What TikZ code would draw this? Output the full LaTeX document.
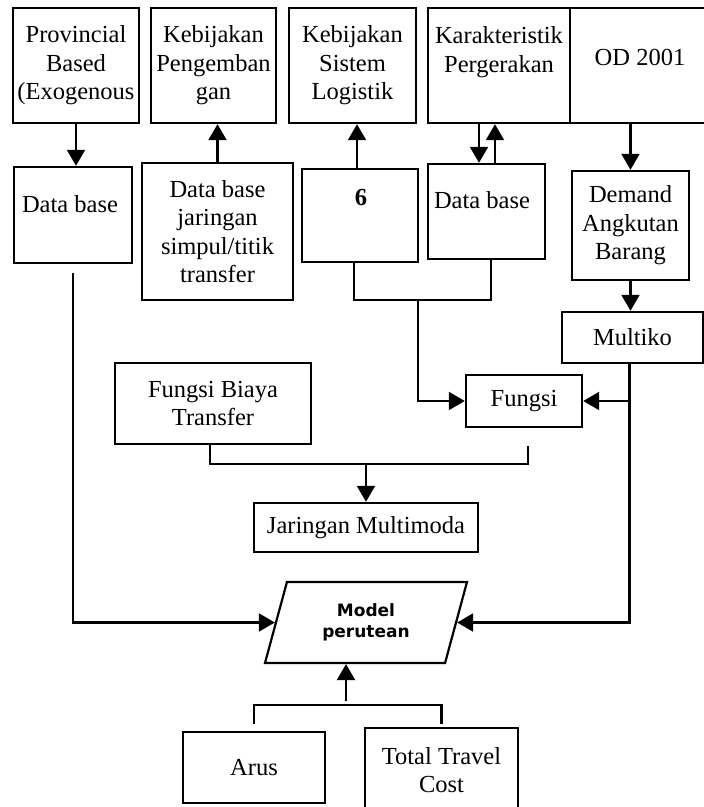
\documentclass[tikz,border=0pt]{standalone}
\usepackage{fontspec}
\setmainfont{Liberation Serif}
\newfontfamily\modelfont{DejaVu Sans}
\usetikzlibrary{arrows.meta,shapes.geometric,positioning}

\begin{document}
\begin{tikzpicture}[x=1pt,y=-1pt,
    box/.style={draw, line width=2.4pt, inner sep=0pt, align=center},
    txt/.style={inner sep=0pt, align=center},
    arr/.style={line width=2.2pt, -{Triangle[length=16pt,width=18pt]}},
    line/.style={line width=2.2pt},
    font=\fontsize{24.5}{28.5}\selectfont]

\useasboundingbox (0,0) rectangle (704,807);

\node[box, minimum width=126pt, minimum height=115pt] (prov) at (76,65.5) {Provincial\\Based\\(Exogenous};
\node[box, minimum width=125pt, minimum height=115pt] (kpeng) at (213.5,65.5) {Kebijakan\\Pengemban\\gan};
\node[box, minimum width=127pt, minimum height=115pt] (ksis) at (352.5,65.5) {Kebijakan\\Sistem\\Logistik};
\node[box, minimum width=142pt, minimum height=115pt] (kar) at (499,65.5) {};
\node[txt] (kartxt) at (499,52) {Karakteristik\\Pergerakan};
\node[box, minimum width=135pt, minimum height=115pt] (od) at (637.5,65.5) {};
\node[txt] (odtxt) at (640,57) {OD 2001};

\node[box, minimum width=118pt, minimum height=96pt] (dbl) at (73,215) {};
\node[txt] (dbltxt) at (70,204) {Data base};
\node[box, minimum width=151pt, minimum height=137pt] (dbj) at (217.5,231.5) {Data base\\jaringan\\simpul/titik\\transfer};
\node[box, minimum width=116pt, minimum height=93pt] (six) at (360,215.5) {};
\node[txt, font=\fontsize{24.5}{28.5}\selectfont\bfseries] (sixtxt) at (361,198) {6};
\node[box, minimum width=117pt, minimum height=95pt] (dbr) at (486.5,211.5) {};
\node[txt] (dbrtxt) at (482,200) {Data base};
\node[box, minimum width=117pt, minimum height=109pt] (dem) at (630.5,225.5) {Demand\\Angkutan\\Barang};
\node[box, minimum width=141pt, minimum height=51pt] (multi) at (632.5,337.5) {Multiko};

\node[box, minimum width=116pt, minimum height=52pt] (fungsi) at (524,401) {Fungsi};
\node[box, minimum width=196pt, minimum height=81pt] (fbt) at (213,403.5) {Fungsi Biaya\\Transfer};
\node[box, minimum width=224pt, minimum height=49pt] (jm) at (366,527.5) {Jaringan Multimoda};

\node[draw, line width=2.2pt, trapezium, trapezium left angle=59.3, trapezium right angle=120.7,
      trapezium stretches body, minimum width=202pt, minimum height=81pt, inner sep=0pt, align=center,
      font=\modelfont\bfseries\fontsize{17}{20.5}\selectfont] (model) at (366,622.5) {Model\\perutean};

\node[box, minimum width=142pt, minimum height=71pt] (arus) at (254,767.5) {Arus};
\node[box, minimum width=153pt, minimum height=84pt] (ttc) at (441.5,770) {Total Travel\\Cost};

\draw[arr] (prov.south) -- (prov.south |- dbl.north);
\draw[arr] (dbj.north) -- (dbj.north |- kpeng.south);
\draw[arr] ([xshift=-3pt]six.north) -- ([xshift=-3pt]six.north |- ksis.south);
\draw[arr] ([xshift=-7.5pt]dbr.north |- kar.south) -- ([xshift=-7.5pt]dbr.north);
\draw[arr] ([xshift=8.5pt]dbr.north) -- ([xshift=8.5pt]dbr.north |- kar.south);
\draw[arr] (dem.north |- od.south) -- (dem.north);
\draw[arr] (dem.south) -- (dem.south |- multi.north);

\coordinate (sixdb) at (418,300);
\draw[line] ([xshift=-6pt]six.south) |- (sixdb) -| ([xshift=4.5pt]dbr.south);
\draw[arr] (sixdb) |- (fungsi.west);

\draw[arr] ([xshift=-3pt]multi.south) |- (model.right side);
\draw[arr] ([xshift=-3pt]multi.south |- fungsi.east) -- (fungsi.east);

\coordinate (fbtjm) at (366,464);
\coordinate (fungsiend) at (528,446);
\draw[line] ([xshift=-3pt]fbt.south) |- (fbtjm) -| (fungsiend);
\draw[arr] (fbtjm) -- (jm.north);

\draw[arr] ([yshift=-9pt]dbl.south) |- (model.left side);

\coordinate (arusttc) at (346,705);
\draw[line] ([yshift=7pt]arus.north) |- (arusttc) -| ([yshift=3pt]ttc.north);
\draw[arr] ([yshift=4pt]arusttc) -- (arusttc |- model.bottom side);
\end{tikzpicture}
\end{document}
